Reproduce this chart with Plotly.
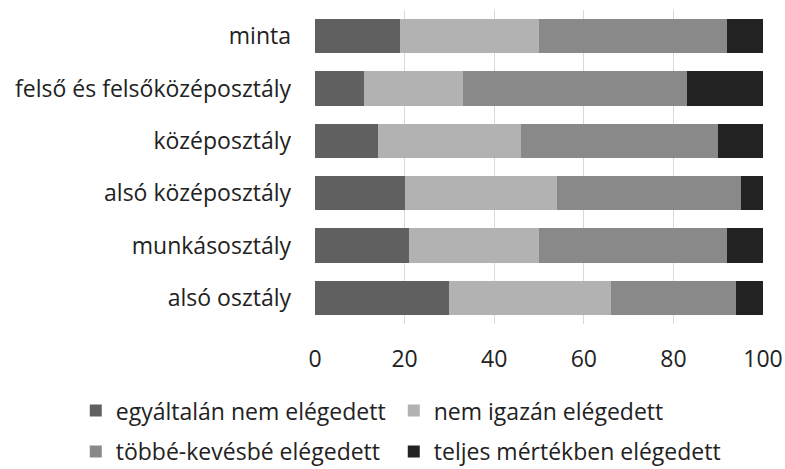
import plotly.graph_objects as go

categories = ["minta", "felső és felsőközéposztály", "középosztály",
              "alsó középosztály", "munkásosztály", "alsó osztály"]
series_names = ["egyáltalán nem elégedett", "nem igazán elégedett",
                "többé-kevésbé elégedett", "teljes mértékben elégedett"]
s1 = [19, 11, 14, 20, 21, 30]
s2 = [31, 22, 32, 34, 29, 36]
s3 = [42, 50, 44, 41, 42, 28]
s4 = [8, 17, 10, 5, 8.4, 6]
colors = ["#606060", "#b2b2b2", "#898989", "#222222"]
tick_vals = [0, 20, 40, 60, 80, 100]

FONT = "Open Sans"
FS = 23
fig = go.Figure()
for i, (name, vals) in enumerate(zip(series_names, [s1, s2, s3, s4])):
    fig.add_trace(go.Bar(
        y=categories, x=vals, name=name, orientation="h",
        marker=dict(color=colors[i], line=dict(width=0)),
        legend="legend" if i < 2 else "legend2",
        legendwidth=273 if i % 2 == 0 else 330,
    ))

legend_common = dict(
    orientation="h", xanchor="left", yanchor="middle",
    font=dict(family=FONT, size=FS, color="#222222"),
    bgcolor="rgba(0,0,0,0)", traceorder="normal",
)
fig.update_layout(
    width=785, height=469,
    margin=dict(l=315, r=22, t=10, b=145, autoexpand=False),
    barmode="stack", bargap=0.34,
    plot_bgcolor="white", paper_bgcolor="white",
    font=dict(family=FONT, size=FS, color="#222222"),
    showlegend=True,
    legend=dict(x=-0.534, y=-0.276, **legend_common),
    legend2=dict(x=-0.534, y=-0.406, **legend_common),
    xaxis=dict(range=[0, 100], tickvals=tick_vals, showgrid=True,
               gridcolor="#d9d9d9", gridwidth=1, zeroline=False,
               showline=False, ticks="", ticklabelstandoff=19,
               automargin=False),
    yaxis=dict(categoryorder="array", categoryarray=categories[::-1],
               showgrid=False, showline=False, ticks="",
               ticklabelstandoff=23, automargin=False),
)
fig.write_html("out.html", config={"displayModeBar": False},
               post_script="document.body.style.margin='0';document.body.style.overflow='hidden';")
